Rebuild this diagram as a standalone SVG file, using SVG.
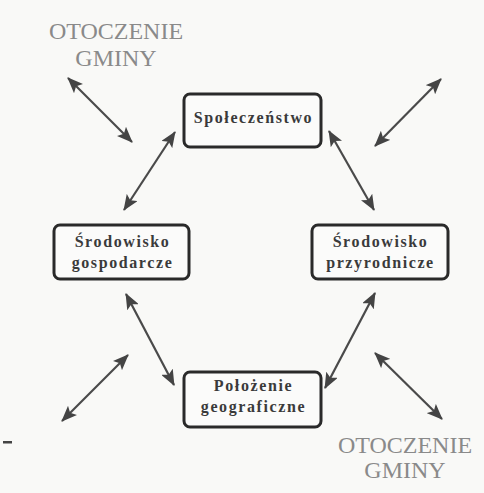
<svg xmlns="http://www.w3.org/2000/svg" width="484" height="493" viewBox="0 0 484 493">
  <style>
    .node rect { fill: #fbfbfa; stroke: #2a2a2a; stroke-width: 3; }
    .node text { font-family: "Liberation Serif", "Times New Roman", serif; font-weight: bold; font-size: 16px; fill: #3a3a3a; letter-spacing: 1.6px; text-anchor: middle; }
    .outer { font-family: "Liberation Serif", "Times New Roman", serif; font-size: 24px; fill: #8a8a8a; text-anchor: middle; }
    #connectors line { stroke: #4a4a4a; stroke-width: 2.2; marker-start: url(#ah); marker-end: url(#ah); }
  </style>
  <defs>
    <marker id="ah" viewBox="0 0 16 13" refX="15" refY="6.5" markerWidth="16" markerHeight="13" markerUnits="userSpaceOnUse" orient="auto-start-reverse">
      <path d="M0,0 L16,6.5 L0,13 L3.5,6.5 Z" fill="#444"/>
    </marker>
  </defs>
  <rect width="484" height="493" fill="#f9f9f7"/>

  <g id="connectors">
    <line x1="68" y1="78" x2="132" y2="142"/>
    <line x1="441" y1="79" x2="375" y2="146"/>
    <line x1="175" y1="132" x2="124" y2="210"/>
    <line x1="329" y1="131" x2="374" y2="210"/>
    <line x1="126" y1="294" x2="174" y2="385"/>
    <line x1="375" y1="293" x2="325" y2="388"/>
    <line x1="128" y1="355" x2="62" y2="421"/>
    <line x1="375" y1="353" x2="442" y2="419"/>
  </g>

  <g id="spoleczenstwo" class="node">
    <rect x="184" y="94" width="137" height="53" rx="6"/>
    <text x="253.5" y="123">Społeczeństwo</text>
  </g>
  <g id="srodowisko-gospodarcze" class="node">
    <rect x="54" y="225" width="135" height="54" rx="6"/>
    <text x="122.5" y="247">Środowisko</text>
    <text x="122.5" y="268">gospodarcze</text>
  </g>
  <g id="srodowisko-przyrodnicze" class="node">
    <rect x="312" y="225" width="136" height="54" rx="6"/>
    <text x="380.5" y="247">Środowisko</text>
    <text x="380.5" y="268">przyrodnicze</text>
  </g>
  <g id="polozenie-geograficzne" class="node">
    <rect x="184" y="372" width="137" height="55" rx="6"/>
    <text x="253.5" y="391">Położenie</text>
    <text x="253.5" y="412">geograficzne</text>
  </g>

  <g id="otoczenie-top">
    <text class="outer" x="116" y="39">OTOCZENIE</text>
    <text class="outer" x="116" y="66">GMINY</text>
  </g>
  <g id="otoczenie-bottom">
    <text class="outer" x="405" y="453">OTOCZENIE</text>
    <text class="outer" x="405" y="478">GMINY</text>
  </g>

  <rect x="3" y="441" width="9" height="2.5" fill="#444"/>
</svg>
